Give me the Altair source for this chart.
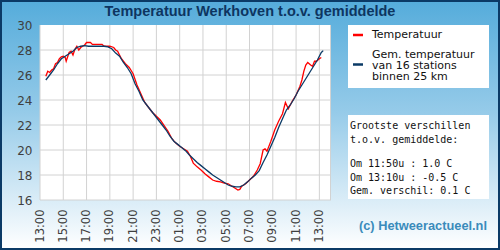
import calendar
from datetime import datetime, timedelta

import altair as alt
import pandas as pd

# ---------------- data ----------------
gem_times = ["13:30", "13:50", "14:10", "14:30", "14:50", "15:10", "15:30", "15:50",
             "16:10", "16:30", "16:50", "17:10", "17:30", "18:00", "18:30", "18:50",
             "19:10", "19:30", "19:50", "20:10", "20:30", "20:50", "21:10", "21:30",
             "21:50", "22:10", "22:30", "22:50", "23:10", "23:30", "23:50", "00:10",
             "00:30", "00:50", "01:10", "01:30", "01:50", "02:10", "02:30", "02:50",
             "03:10", "03:30", "03:50", "04:10", "04:30", "04:50", "05:10", "05:30",
             "05:50", "06:10", "06:30", "06:50", "07:10", "07:30", "07:50", "08:10",
             "08:30", "08:50", "09:10", "09:30", "09:50", "10:10", "10:30", "10:50",
             "11:10", "11:30", "11:50", "12:10", "12:30", "12:50", "13:10", "13:20"]
gem_values = [25.6, 26.0, 26.4, 26.9, 27.3, 27.5, 27.7, 27.9,
              28.2, 28.3, 28.35, 28.3, 28.3, 28.3, 28.3, 28.25,
              28.1, 27.75, 27.5, 27.0, 26.6, 26.1, 25.3, 24.7,
              24.0, 23.6, 23.2, 22.8, 22.4, 22.0, 21.6, 21.1,
              20.7, 20.45, 20.2, 19.95, 19.6, 19.3, 19.0, 18.75,
              18.5, 18.25, 18.0, 17.8, 17.6, 17.4, 17.2, 17.1,
              17.05, 17.05, 17.2, 17.45, 17.75, 18.0, 18.35, 19.0,
              19.6, 20.3, 21.0, 21.8, 22.5, 23.2, 23.6, 24.1,
              24.7, 25.2, 25.7, 26.2, 26.7, 27.2, 27.8, 27.95]

temp_times = ["13:30", "13:40", "13:50", "14:00", "14:10", "14:20", "14:30", "14:40",
              "14:50", "15:00", "15:10", "15:15", "15:30", "15:40", "15:50", "16:00",
              "16:10", "16:20", "16:30", "16:40", "16:50", "17:00", "17:20", "17:30",
              "18:00", "18:20", "18:30", "19:00", "19:20", "19:30", "19:40", "19:50",
              "20:00", "20:20", "20:40", "21:00", "21:20", "21:40", "22:00", "22:20",
              "22:40", "23:00", "23:20", "23:40", "00:00", "00:20", "00:40", "01:00",
              "01:20", "01:40", "01:55", "02:10", "02:30", "02:50", "03:10", "03:30",
              "03:50", "04:10", "04:30", "04:50", "05:10", "05:30", "05:50", "06:00",
              "06:10", "06:20", "06:40", "07:00", "07:20", "07:40", "07:55", "08:10",
              "08:20", "08:30", "08:50", "09:10", "09:30", "09:50", "10:05", "10:20",
              "10:40", "11:00", "11:20", "11:30", "11:40", "11:50", "12:00", "12:15",
              "12:25", "12:35", "12:45", "13:00", "13:10"]
temp_values = [25.9, 26.3, 26.2, 26.4, 26.5, 26.9, 27.0, 27.3,
               27.45, 27.5, 27.4, 27.1, 27.8, 27.9, 27.6, 28.05,
               28.3, 28.0, 28.2, 28.3, 28.4, 28.6, 28.6, 28.45,
               28.45, 28.45, 28.3, 28.3, 28.2, 28.0, 27.9, 27.6,
               27.3, 26.9, 26.6, 26.1, 25.2, 24.5, 23.8, 23.4,
               23.0, 22.7, 22.4, 21.95, 21.5, 20.9, 20.55, 20.3,
               20.1, 19.9, 19.5, 18.95, 18.65, 18.4, 18.1, 17.85,
               17.6, 17.5, 17.45, 17.35, 17.3, 17.1, 16.9, 16.8,
               16.85, 17.1, 17.3, 17.6, 17.9, 18.4, 18.9, 20.0,
               20.1, 19.9, 20.7, 21.6, 22.3, 22.9, 23.8, 23.3,
               23.9, 24.4, 25.1, 25.6, 26.3, 26.8, 27.0, 26.8,
               26.7, 27.1, 27.1, 27.3, 27.4]

tick_times = ["13:00", "15:00", "17:00", "19:00", "21:00", "23:00", "01:00",
              "03:00", "05:00", "07:00", "09:00", "11:00", "13:00"]
domain_start = "13:00"   # day 1
domain_end = "14:00"     # day 2
y_ticks = [16, 18, 20, 22, 24, 26, 28, 30]
y_grid = [16, 18, 20, 22, 24, 26, 28]

title_text = "Temperatuur Werkhoven t.o.v. gemiddelde"
legend_red = ["Temperatuur"]
legend_navy = ["Gem. temperatuur", "van 16 stations", "binnen 25 km"]
info_head = ["Grootste verschillen", "t.o.v. gemiddelde:"]
info_body = ["Om 11:50u : 1.0 C", "Om 13:10u : -0.5 C", "Gem. verschil: 0.1 C"]
credit_text = "(c) Hetweeractueel.nl"

# ---------------- helpers ----------------
BASE = datetime(2024, 7, 1)


def to_dates(times, start_day=0):
    out, day, prev = [], start_day, None
    for s in times:
        h, m = map(int, s.split(":"))
        mins = h * 60 + m
        if prev is not None and mins <= prev:
            day += 1
        prev = mins
        out.append(BASE + timedelta(days=day, hours=h, minutes=m))
    return out


def iso(ds):
    return [d.strftime("%Y-%m-%dT%H:%M:%SZ") for d in ds]


def ms(ds):
    return [calendar.timegm(d.timetuple()) * 1000 for d in ds]


gem_df = pd.DataFrame({"t": iso(to_dates(gem_times)), "v": gem_values})
temp_df = pd.DataFrame({"t": iso(to_dates(temp_times)), "v": temp_values})
tick_dates = to_dates(tick_times)
vgrid_df = pd.DataFrame({"t": iso(tick_dates)})
hgrid_df = pd.DataFrame({"v": y_grid})
dom = ms(to_dates([domain_start]) + to_dates([domain_end], start_day=1))

W, H = 291, 175
LABEL = "#3f3f3f"
GRID = "#d2d2d2"
NAVY = "#0b3a66"
RED = "#ff0000"

xscale = alt.Scale(type="utc", domain=dom, nice=False)
yscale = alt.Scale(domain=[16, 30], nice=False, zero=False)
xaxis = alt.Axis(values=ms(tick_dates), format="%H:%M", labelAngle=270, title=None,
                 grid=False, ticks=False, domain=False, labelPadding=9,
                 labelFont="DejaVu Sans", labelFontSize=11.5, labelColor=LABEL,
                 zindex=1, labelOverlap=False, labelFlush=False)
yaxis = alt.Axis(values=y_ticks, format="d", title=None, grid=False, ticks=False,
                 domain=False, labelPadding=8, labelFont="DejaVu Sans",
                 labelFontSize=12, labelColor=LABEL, zindex=1, labelOverlap=False,
                 labelFlush=False)


def X(field="t"):
    return alt.X(f"{field}:T", scale=xscale, axis=xaxis)


def Y(field="v"):
    return alt.Y(f"{field}:Q", scale=yscale, axis=yaxis)


one = pd.DataFrame({"k": [0]})

# background gradient with border, covering the whole image
bg = alt.Chart(one).mark_rect(
    fill=alt.Gradient(
        gradient="linear", x1=0, y1=0, x2=0, y2=1,
        stops=[alt.GradientStop(offset=0, color="#55acdb"),
               alt.GradientStop(offset=0.45, color="#96cbe9"),
               alt.GradientStop(offset=0.8, color="#d9ecf7"),
               alt.GradientStop(offset=1, color="#ffffff")]),
    stroke=NAVY, strokeWidth=2,
).encode(x=alt.value(-39), x2=alt.value(459), y=alt.value(-24), y2=alt.value(224))

plot_bg = alt.Chart(one).mark_rect(fill="white").encode(
    x=alt.value(0), x2=alt.value(W), y=alt.value(0), y2=alt.value(H))

vgrid = alt.Chart(vgrid_df).mark_rule(color=GRID, strokeWidth=1).encode(x=X())
hgrid = alt.Chart(hgrid_df).mark_rule(color=GRID, strokeWidth=1).encode(y=Y())
right_edge = alt.Chart(one).mark_rule(color=GRID, strokeWidth=1).encode(
    x=alt.value(W - 0.5), y=alt.value(0), y2=alt.value(H))

red_line = alt.Chart(temp_df).mark_line(color=RED, strokeWidth=1.3).encode(x=X(), y=Y())
gem_line = alt.Chart(gem_df).mark_line(color=NAVY, strokeWidth=1.3).encode(x=X(), y=Y())

title = alt.Chart(one).mark_text(
    text=title_text, font="Liberation Sans", fontWeight="bold", fontSize=14.5,
    color="#0d3561", align="center", baseline="middle",
).encode(x=alt.value(210), y=alt.value(-13))

# legend box
leg_box = alt.Chart(one).mark_rect(fill="white").encode(
    x=alt.value(308), x2=alt.value(449), y=alt.value(0), y2=alt.value(63))
leg_red = alt.Chart(one).mark_rule(color=RED, strokeWidth=2.5).encode(
    x=alt.value(313), x2=alt.value(323), y=alt.value(10))
leg_navy = alt.Chart(one).mark_rule(color=NAVY, strokeWidth=2.5).encode(
    x=alt.value(313), x2=alt.value(323), y=alt.value(39.5))
leg_t1 = alt.Chart(one).mark_text(
    text=legend_red, font="DejaVu Sans", fontSize=11, color="#111111",
    align="left", baseline="middle").encode(x=alt.value(332), y=alt.value(10))
leg_t2 = alt.Chart(one).mark_text(
    text=legend_navy, font="DejaVu Sans", fontSize=11, color="#111111",
    align="left", baseline="middle", lineHeight=11,
).encode(x=alt.value(332), y=alt.value(29.5))

# info box
info_box = alt.Chart(one).mark_rect(fill="white").encode(
    x=alt.value(308), x2=alt.value(449), y=alt.value(90), y2=alt.value(174))
info1 = alt.Chart(one).mark_text(
    text=info_head, font="DejaVu Sans Mono", fontSize=10, color="#111111",
    align="left", baseline="middle", lineHeight=13.5,
).encode(x=alt.value(310), y=alt.value(101))
info2 = alt.Chart(one).mark_text(
    text=info_body, font="DejaVu Sans Mono", fontSize=10, color="#111111",
    align="left", baseline="middle", lineHeight=13.5,
).encode(x=alt.value(310), y=alt.value(139))

credit = alt.Chart(one).mark_text(
    text=credit_text, font="Liberation Sans", fontWeight="bold", fontSize=12.8,
    color="#3a8bbb", align="right", baseline="middle",
).encode(x=alt.value(447), y=alt.value(201))

chart = alt.layer(
    bg, plot_bg, vgrid, hgrid, right_edge, red_line, gem_line,
    title, leg_box, leg_red, leg_navy, leg_t1, leg_t2, info_box, info1, info2, credit,
).properties(
    width=W, height=H, autosize="none",
    padding={"left": 40, "top": 25, "right": 500 - 40 - W, "bottom": 250 - 25 - H},
    background="white",
).configure_view(stroke=None)

chart.save("out.html", embed_options={"renderer": "svg", "actions": False})
